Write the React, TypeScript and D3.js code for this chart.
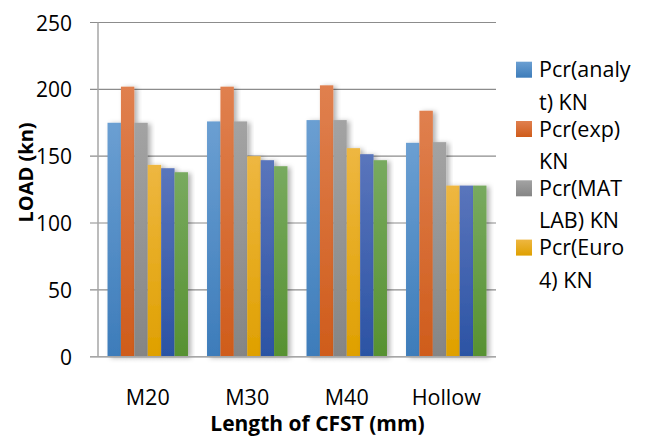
import * as d3 from 'd3';

const W = 653;
const H = 438;
const PLOT = { left: 98, right: 496, top: 22.5, bottom: 356.7 };

const categories = ['M20', 'M30', 'M40', 'Hollow'];
const seriesNames = ['Pcr(analyt) KN', 'Pcr(exp) KN', 'Pcr(MATLAB) KN', 'Pcr(Euro 4) KN', 'Pcr(5) KN', 'Pcr(6) KN'];
// values per series, in category order
const analyt = [175, 176, 177, 160];
const exp = [202, 202, 203, 184];
const matlab = [175, 176, 177, 160.5];
const euro4 = [143.5, 150, 156, 128];
const series5 = [141, 147, 151.5, 128];
const series6 = [138, 142.5, 147, 128];
const seriesValues = [analyt, exp, matlab, euro4, series5, series6];
const yTicks = [0, 50, 100, 150, 200, 250];
// the legend in the picture is clipped after 4 entries
const legendLines = [
  ['Pcr(analy', 't) KN'],
  ['Pcr(exp)', 'KN'],
  ['Pcr(MAT', 'LAB) KN'],
  ['Pcr(Euro', '4) KN'],
];

// top / bottom gradient colors per series
const colors = [
  ['#6b9fd2', '#3d7cba'],
  ['#e0804f', '#cf5c1b'],
  ['#a3a3a3', '#858585'],
  ['#eeb741', '#dfa000'],
  ['#5a75bc', '#2b53a4'],
  ['#78aa5f', '#579131'],
];

const FONT = '"Open Sans", sans-serif';

export default function App() {
  const x0 = d3.scaleBand<string>().domain(categories).range([PLOT.left, PLOT.right]);
  const x1 = d3
    .scaleBand<number>()
    .domain(d3.range(seriesNames.length))
    .range([0, x0.bandwidth()])
    .paddingInner(0)
    .paddingOuter(0.71);
  const y = d3.scaleLinear().domain([0, 250]).range([PLOT.bottom, PLOT.top]);

  return (
    <svg width={W} height={H} style={{ position: 'absolute', left: 0, top: 0 }} fontFamily={FONT}>
      <defs>
        {colors.map((c, i) => (
          <linearGradient key={i} id={`g${i}`} x1="0" y1="0" x2="0" y2="1">
            <stop offset="0%" stopColor={c[0]} />
            <stop offset="100%" stopColor={c[1]} />
          </linearGradient>
        ))}
        <filter id="shadow" x="-50%" y="-10%" width="200%" height="120%">
          <feDropShadow dx="3" dy="1" stdDeviation="2.5" floodColor="#000" floodOpacity="0.3" />
        </filter>
      </defs>
      <rect width={W} height={H} fill="#fff" />

      {/* gridlines + ticks */}
      {yTicks.map((t) => (
        <g key={t}>
          <line x1={90} x2={PLOT.right} y1={y(t)} y2={y(t)} stroke="#8c8c8c" strokeWidth={1.2} />
          <text x={72} y={y(t) + 8} textAnchor="end" fontSize={21} fill="#000">
            {t}
          </text>
        </g>
      ))}

      {/* bars */}
      {categories.map((cat, ci) => (
        <g key={cat} transform={`translate(${x0(cat)},0)`}>
          {seriesValues.map((vals, si) => (
            <rect
              key={si}
              x={x1(si)}
              y={y(vals[ci])}
              width={x1.bandwidth()}
              height={y(0) - y(vals[ci])}
              fill={`url(#g${si})`}
              filter="url(#shadow)"
            />
          ))}
        </g>
      ))}

      {/* axis lines */}
      <line x1={PLOT.left} x2={PLOT.left} y1={PLOT.top} y2={PLOT.bottom} stroke="#a6a6a6" strokeWidth={1.5} />
      <line x1={90} x2={PLOT.right} y1={PLOT.bottom} y2={PLOT.bottom} stroke="#a6a6a6" strokeWidth={1.5} />

      {/* category labels */}
      {categories.map((cat) => (
        <text key={cat} x={x0(cat)! + x0.bandwidth() / 2} y={405} textAnchor="middle" fontSize={21.5} fill="#000">
          {cat}
        </text>
      ))}

      <text x={317.5} y={430.5} textAnchor="middle" fontSize={21} fontWeight="bold" fill="#000">
        Length of CFST (mm)
      </text>
      <text
        transform="translate(33,172.5) rotate(-90)"
        textAnchor="middle"
        fontSize={20}
        fontWeight="bold"
        fill="#000"
      >
        LOAD (kn)
      </text>

      {/* legend */}
      {legendLines.map((lines, i) => {
        const top = 61.7 + i * 59.3;
        return (
          <g key={i}>
            <rect x={516} y={top} width={16} height={16} fill={`url(#g${i})`} />
            {lines.map((ln, j) => (
              <text key={j} x={539} y={top + 15.5 + j * 32.5} fontSize={21.5} fill="#000">
                {ln}
              </text>
            ))}
          </g>
        );
      })}
    </svg>
  );
}
